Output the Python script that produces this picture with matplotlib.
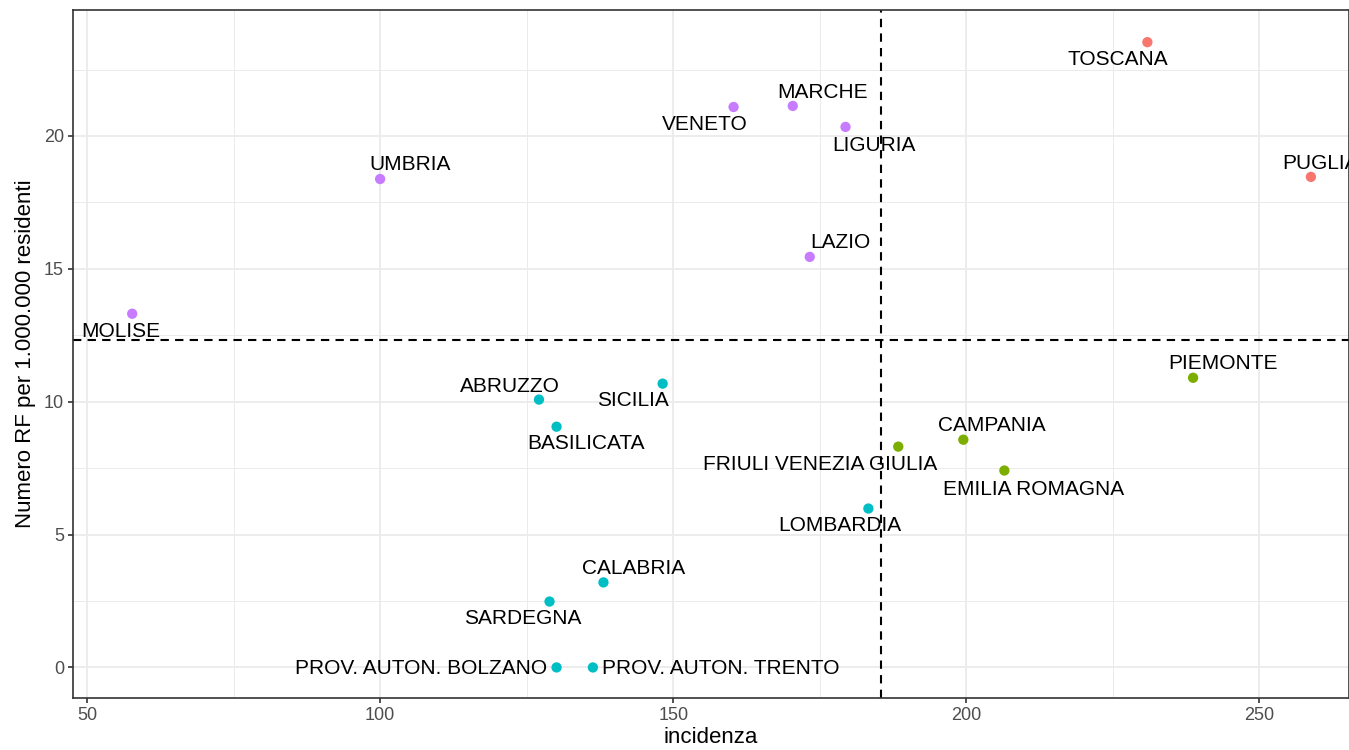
import matplotlib
matplotlib.use("Agg")
import matplotlib.pyplot as plt

plt.rcParams['font.family'] = ['Liberation Sans', 'DejaVu Sans']

regioni = ['TOSCANA', 'PUGLIA', 'MARCHE', 'VENETO', 'LIGURIA', 'UMBRIA', 'LAZIO',
           'MOLISE', 'PIEMONTE', 'CAMPANIA', 'FRIULI VENEZIA GIULIA',
           'EMILIA ROMAGNA', 'SICILIA', 'ABRUZZO', 'BASILICATA', 'LOMBARDIA',
           'CALABRIA', 'SARDEGNA', 'PROV. AUTON. BOLZANO', 'PROV. AUTON. TRENTO']
incidenza = [230.9, 258.8, 170.4, 160.3, 179.4, 100.0, 173.3,
             57.7, 238.7, 199.5, 188.4,
             206.5, 148.2, 127.1, 130.1, 183.3,
             138.1, 128.9, 130.1, 136.3]
rf = [23.53, 18.46, 21.13, 21.09, 20.34, 18.38, 15.45,
      13.31, 10.9, 8.57, 8.31,
      7.41, 10.68, 10.08, 9.06, 5.98,
      3.2, 2.48, 0.0, 0.0]
gruppo = [1, 1, 4, 4, 4, 4, 4,
          4, 2, 2, 2,
          2, 3, 3, 3, 3,
          3, 3, 3, 3]
# label positions (repelled)
lab_x = [225.8, 260.5, 175.5, 155.4, 184.3, 105.1, 178.5,
         55.8, 243.8, 204.3, 175.0,
         211.4, 143.2, 122.1, 135.2, 178.5,
         143.2, 124.3, 106.9, 158.1]
lab_y = [22.88, 18.97, 21.64, 20.44, 19.65, 18.93, 16.0,
         12.65, 11.42, 9.09, 7.65,
         6.68, 10.03, 10.59, 8.41, 5.33,
         3.71, 1.83, -0.05, -0.05]

media_x = 185.4
media_y = 12.33

colori = {1: '#F8766D', 2: '#7CAE00', 3: '#00BFC4', 4: '#C77CFF'}

fig = plt.figure(figsize=(13.49, 7.5), dpi=100)
ax = fig.add_axes([73 / 1349, 52 / 750, 1 - 73 / 1349, (698 - 10) / 750])

ax.set_xlim(47.6, 265.3)
ax.set_ylim(-1.15, 24.74)

ax.set_xticks([50, 100, 150, 200, 250])
ax.set_yticks([0, 5, 10, 15, 20])
ax.set_xticks([75, 125, 175, 225], minor=True)
ax.set_yticks([2.5, 7.5, 12.5, 17.5, 22.5], minor=True)
ax.grid(which='major', color='#EBEBEB', linewidth=1.3)
ax.grid(which='minor', color='#EBEBEB', linewidth=0.7)
ax.tick_params(which='minor', length=0)
ax.tick_params(which='major', length=3.5, width=1.2, color='#333333',
               labelsize=13, labelcolor='#4D4D4D', pad=3)
ax.set_axisbelow(True)
for s in ax.spines.values():
    s.set_color('#333333')
    s.set_linewidth(1.2)

ax.axvline(media_x, color='black', linestyle=(0, (4, 3)), linewidth=1.5)
ax.axhline(media_y, color='black', linestyle=(0, (4, 3)), linewidth=1.5)

ax.scatter(incidenza, rf, c=[colori[g] for g in gruppo], s=55, zorder=3,
           linewidths=0)

for nome, lx, ly in zip(regioni, lab_x, lab_y):
    ax.text(lx, ly, nome, fontsize=15, ha='center', va='center', zorder=4,
            clip_on=True)

ax.set_xlabel('incidenza', fontsize=16, labelpad=2)
ax.set_ylabel('Numero RF per 1.000.000 residenti', fontsize=16, labelpad=6)

fig.savefig('out.png', dpi=100)
